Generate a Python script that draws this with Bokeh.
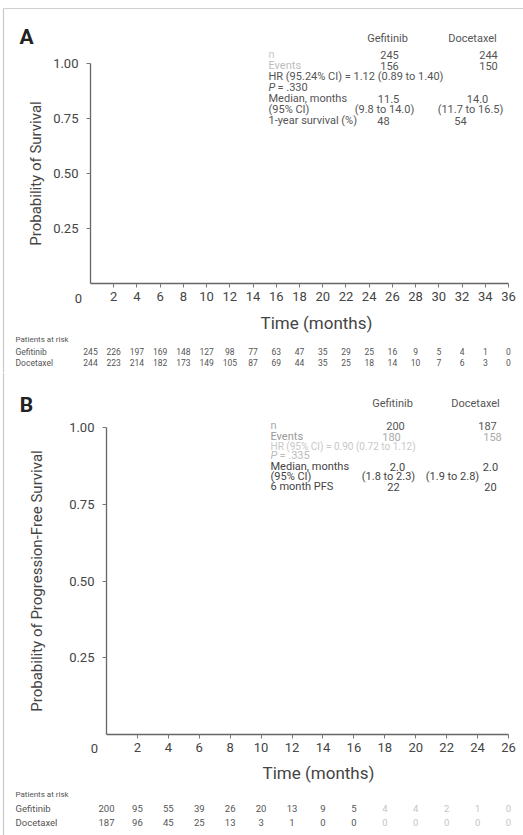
import math
from bokeh.plotting import figure
from bokeh.models import Range1d, LinearAxis, FixedTicker, PrintfTickFormatter
from bokeh.layouts import column
from bokeh.embed import file_html
from bokeh.resources import INLINE
from bokeh.core.properties import value

# ---------------- data ----------------
months_a = [0, 2, 4, 6, 8, 10, 12, 14, 16, 18, 20, 22, 24, 26, 28, 30, 32, 34, 36]
gef_risk_a = [245, 226, 197, 169, 148, 127, 98, 77, 63, 47, 35, 29, 25, 16, 9, 5, 4, 1, 0]
doc_risk_a = [244, 223, 214, 182, 173, 149, 105, 87, 69, 44, 35, 25, 18, 14, 10, 7, 6, 3, 0]

months_b = [0, 2, 4, 6, 8, 10, 12, 14, 16, 18, 20, 22, 24, 26]
gef_risk_b = [200, 95, 55, 39, 26, 20, 13, 9, 5, 4, 4, 2, 1, 0]
doc_risk_b = [187, 96, 45, 25, 13, 3, 1, 0, 0, 0, 0, 0, 0, 0]

y_ticks = [0.25, 0.50, 0.75, 1.00]
arms = ["Gefitinib", "Docetaxel"]
risk_title = "Patients at risk"

stats_a_labels = ["n", "Events", "HR (95.24% CI) = 1.12 (0.89 to 1.40)", "P = .330",
                  "Median, months", "(95% CI)", "1-year survival (%)"]
stats_a_gef = ["245", "156", "", "", "11.5", "(9.8 to 14.0)", "48"]
stats_a_doc = ["244", "150", "", "", "14.0", "(11.7 to 16.5)", "54"]

stats_b_labels = ["n", "Events", "HR (95% CI) = 0.90 (0.72 to 1.12)", "P = .335",
                  "Median, months", "(95% CI)", "6 month PFS"]
stats_b_gef = ["200", "180", "", "", "2.0", "(1.8 to 2.3)", "22"]
stats_b_doc = ["187", "158", "", "", "2.0", "(1.9 to 2.8)", "20"]

# ---------------- layout / style (pixel geometry of each panel) ----------------
FONT = "Roboto"
W = 523
geom_a = dict(h=372, fl=90, fr=508, ft=63, fb=283)
geom_b = dict(h=463, fl=106, fr=508, ft=55, fb=362)


def make_panel(g, months):
    xmax = months[-1]
    ppx = (g["fr"] - g["fl"]) / xmax
    ppy = g["fb"] - g["ft"]
    g["ppx"], g["ppy"] = ppx, ppy
    p = figure(width=W, height=g["h"], title=None,
               x_range=Range1d(-g["fl"] / ppx, xmax + (W - g["fr"]) / ppx),
               y_range=Range1d(-(g["h"] - g["fb"]) / ppy, g["fb"] / ppy),
               min_border=0, x_axis_location=None, y_axis_location=None,
               output_backend="svg", toolbar_location=None)
    p.outline_line_color = None
    p.grid.grid_line_color = None
    p.grid.visible = False
    p.background_fill_color = "white"
    p.border_fill_color = "white"
    xa = LinearAxis(fixed_location=0, bounds=(0, xmax), ticker=FixedTicker(ticks=months[1:]))
    ya = LinearAxis(fixed_location=0, bounds=(0, 1), ticker=FixedTicker(ticks=y_ticks),
                    formatter=PrintfTickFormatter(format="%.2f"))
    for ax in (xa, ya):
        ax.axis_line_color = "#666"
        ax.axis_line_width = 1.3
        ax.major_tick_line_color = "#777"
        ax.major_tick_out = 4
        ax.major_tick_in = 0
        ax.minor_tick_line_color = None
        ax.major_label_text_font = FONT
        ax.major_label_text_font_size = "13px"
        ax.major_label_text_color = "#444"
    xa.major_label_standoff = 4
    ya.major_label_standoff = 8
    p.add_layout(xa, "below")
    p.add_layout(ya, "left")
    return p


def dx(g, px):
    return (px - g["fl"]) / g["ppx"]


def dy(g, py):
    return (g["fb"] - py) / g["ppy"]


def put(p, g, pxs, pys, texts, align="left", size="11px", color="#444", style="normal", angle=0.0):
    p.text(x=[dx(g, v) for v in pxs], y=[dy(g, v) for v in pys], text=texts,
           text_align=align, text_baseline="middle", text_font=value(FONT),
           text_font_size=size, text_color=color, text_font_style=style, angle=angle)


def page_border(p, g, top_y=None):
    # thin scan-frame border line along the left (and top) of the page
    y_top = top_y if top_y is not None else 0
    p.segment(x0=[dx(g, 3)], y0=[dy(g, y_top)], x1=[dx(g, 3)], y1=[dy(g, g["h"])],
              line_color="#c8c8c8", line_width=1.2)
    if top_y is not None:
        p.segment(x0=[dx(g, 3)], y0=[dy(g, top_y)], x1=[dx(g, W)], y1=[dy(g, top_y)],
                  line_color="#d0d0d0", line_width=1.2)


def decorate(p, g, letter, letter_y, ylabel, ylabel_x, xlabel_x, xlabel_y, zero_y):
    put(p, g, [26], [letter_y], [letter], align="center", size="21px", color="#222", style="bold")
    put(p, g, [ylabel_x], [(g["ft"] + g["fb"]) / 2], [ylabel], align="center", size="15px",
        color="#444", angle=math.pi / 2)
    put(p, g, [xlabel_x], [xlabel_y], ["Time (months)"], align="center", size="17px", color="#444")
    put(p, g, [g["fl"] - 12], [zero_y], ["0"], align="center", size="13px", color="#444")


def add_stats(p, g, head_y, head_x, rows_y, label_x, labels, gef, doc, gef_x, doc_x,
              label_colors, value_colors, hr_size="11px"):
    put(p, g, head_x, [head_y, head_y], arms, align="center", size="11px", color="#555")
    for i, lab in enumerate(labels):
        y = rows_y[i]
        size = hr_size if lab.startswith("HR") else "11px"
        if lab.startswith("P ="):
            put(p, g, [label_x], [y], ["P"], size=size, color=label_colors[i], style="italic")
            put(p, g, [label_x + 9], [y], [lab[1:].strip()], size=size, color=label_colors[i])
        else:
            put(p, g, [label_x], [y], [lab], size=size, color=label_colors[i])
        if gef[i] or doc[i]:
            put(p, g, [gef_x[i], doc_x[i]], [y, y], [gef[i], doc[i]], align="center",
                size="11px", color=value_colors[i])


def add_risk(p, g, months, gef, doc, rows_y, size, colors):
    put(p, g, [15, 15, 15], rows_y, [risk_title] + arms, size=["8px", size, size], color="#555")
    p.text(x=months, y=[dy(g, rows_y[1])] * len(months), text=[str(v) for v in gef],
           text_align="center", text_baseline="middle", text_font=value(FONT),
           text_font_size=size, text_color=colors)
    p.text(x=months, y=[dy(g, rows_y[2])] * len(months), text=[str(v) for v in doc],
           text_align="center", text_baseline="middle", text_font=value(FONT),
           text_font_size=size, text_color=colors)


# ---------------- panel A ----------------
pa = make_panel(geom_a, months_a)
page_border(pa, geom_a, top_y=8)
decorate(pa, geom_a, "A", 36, "Probability of Survival", 35, 316, 322, 298)
add_stats(pa, geom_a, 38, [387, 472], [54, 65, 76, 87, 98, 109, 120], 268,
          stats_a_labels, stats_a_gef, stats_a_doc,
          [389, 389, 0, 0, 388, 384, 383], [488, 488, 0, 0, 477, 470, 460],
          ["#c8c8c8", "#bdbdbd", "#555", "#555", "#555", "#555", "#555"],
          ["#555"] * 7)
add_risk(pa, geom_a, months_a, gef_risk_a, doc_risk_a, [339, 351, 362], "8.5px",
         ["#555"] * len(months_a))

# ---------------- panel B (y measured from top of this panel) ----------------
pb = make_panel(geom_b, months_b)
page_border(pb, geom_b)
decorate(pb, geom_b, "B", 32, "Probability of Progression-Free Survival", 36, 318, 400, 376)
add_stats(pb, geom_b, 31, [392, 475], [53, 64, 74, 83, 94, 104, 114], 270,
          stats_b_labels, stats_b_gef, stats_b_doc,
          [395, 391, 0, 0, 397, 388, 393], [487, 492, 0, 0, 490, 452, 490],
          ["#aaa", "#999", "#c8c8c8", "#bbb", "#444", "#444", "#444"],
          ["#555", "#aaa", "#444", "#444", "#444", "#444", "#444"], hr_size="10px")
colors_b = ["#555" if m < 18 else "#c4c4c4" for m in months_b]
add_risk(pb, geom_b, months_b, gef_risk_b, doc_risk_b, [422, 436, 450], "9.5px", colors_b)

layout = column(pa, pb, spacing=0)
open("out.html", "w").write(file_html(layout, INLINE))
